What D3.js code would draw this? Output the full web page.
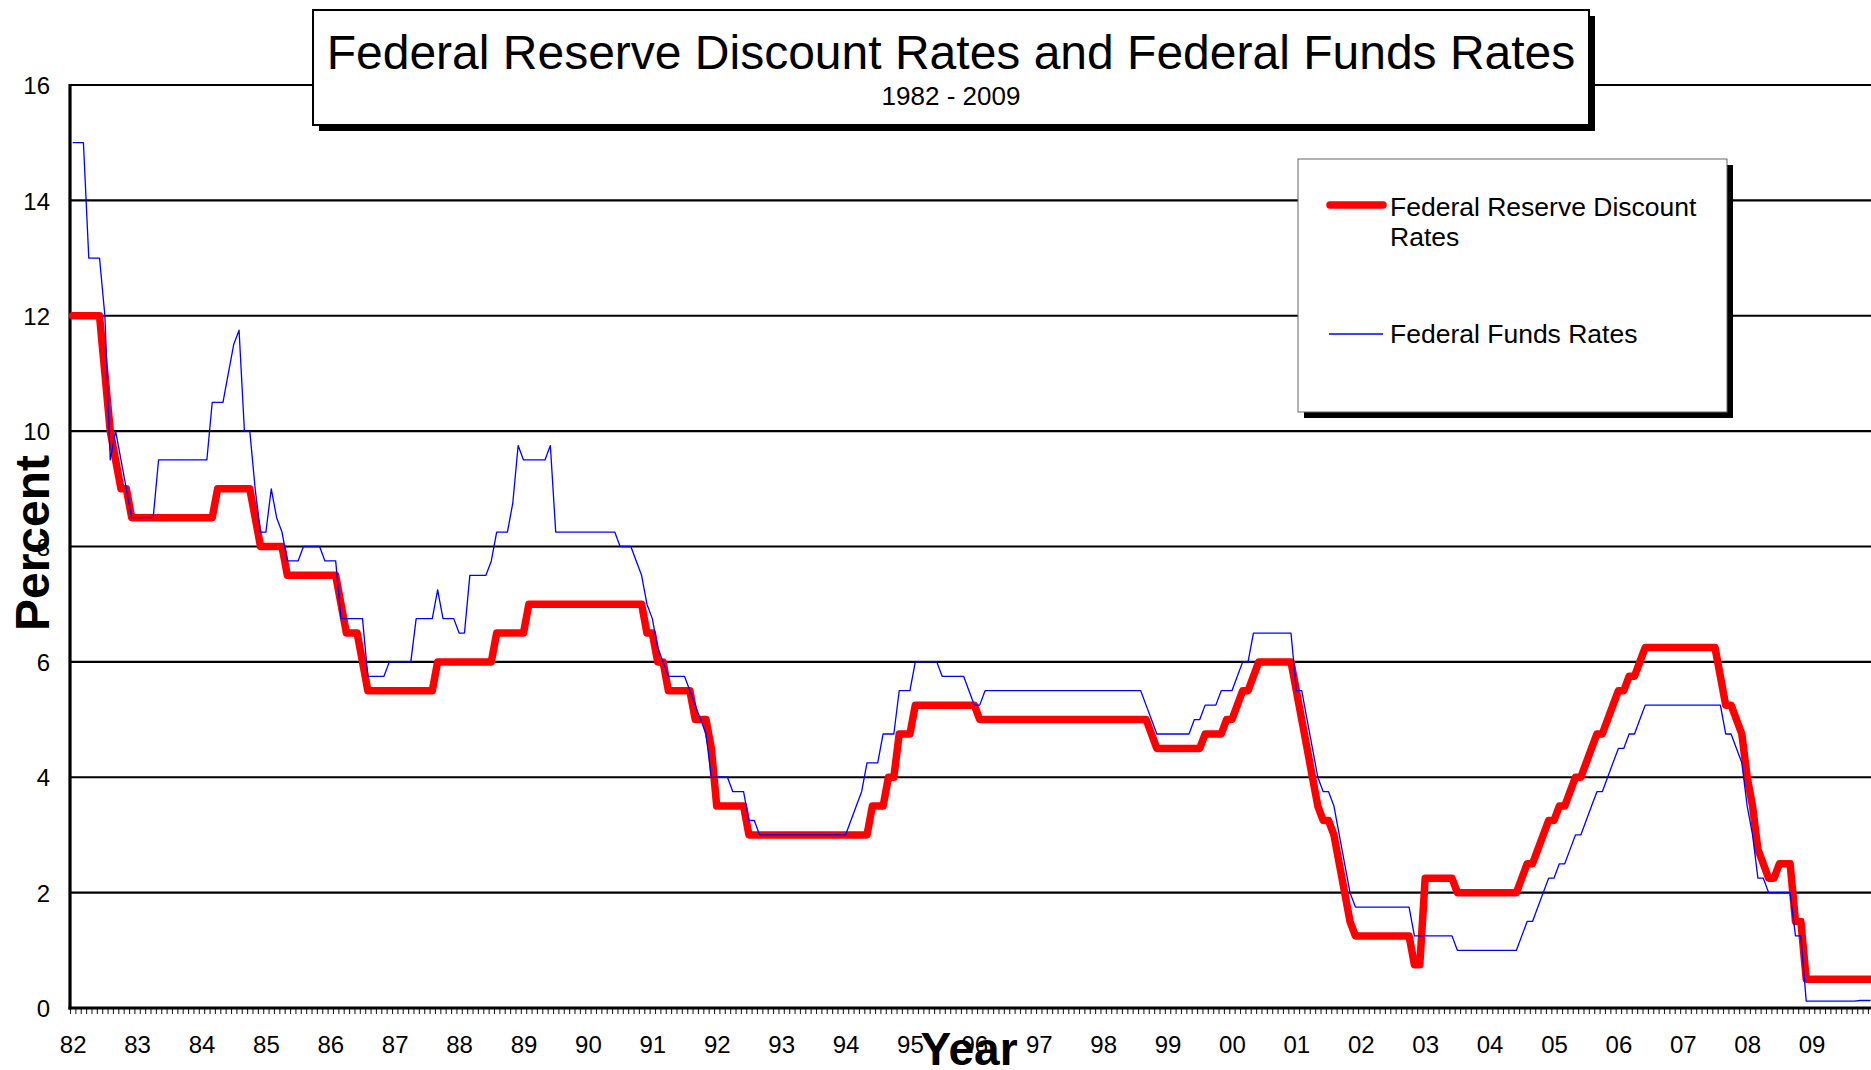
<!DOCTYPE html>
<html>
<head>
<meta charset="utf-8">
<script src="https://cdn.jsdelivr.net/npm/d3@7"></script>
<style>
  html, body { margin: 0; padding: 0; background: #fff; }
  svg { display: block; font-family: "Liberation Sans", Arial, sans-serif; }
</style>
</head>
<body>
<svg id="chart" width="1871" height="1070"></svg>
<script>
// ---------- data (monthly, Jan 1982 .. Dec 2009) ----------
const yearLabels = ["82","83","84","85","86","87","88","89","90","91","92","93","94","95",
                    "96","97","98","99","00","01","02","03","04","05","06","07","08","09"];
const yTicks = [0, 2, 4, 6, 8, 10, 12, 14, 16];

const discountRate = [
  12,12,12,12,12,12,11,10,9.5,9,9,8.5,                      // 1982
  8.5,8.5,8.5,8.5,8.5,8.5,8.5,8.5,8.5,8.5,8.5,8.5,          // 1983
  8.5,8.5,8.5,9,9,9,9,9,9,9,8.5,8,                          // 1984
  8,8,8,8,7.5,7.5,7.5,7.5,7.5,7.5,7.5,7.5,                  // 1985
  7.5,7.5,7,6.5,6.5,6.5,6,5.5,5.5,5.5,5.5,5.5,              // 1986
  5.5,5.5,5.5,5.5,5.5,5.5,5.5,5.5,6,6,6,6,                  // 1987
  6,6,6,6,6,6,6,6.5,6.5,6.5,6.5,6.5,                        // 1988
  6.5,7,7,7,7,7,7,7,7,7,7,7,                                // 1989
  7,7,7,7,7,7,7,7,7,7,7,6.5,                                // 1990
  6.5,6,6,5.5,5.5,5.5,5.5,5.5,5,5,5,4.5,                    // 1991
  3.5,3.5,3.5,3.5,3.5,3.5,3,3,3,3,3,3,                      // 1992
  3,3,3,3,3,3,3,3,3,3,3,3,                                  // 1993
  3,3,3,3,3,3.5,3.5,3.5,4,4,4.75,4.75,                      // 1994
  4.75,5.25,5.25,5.25,5.25,5.25,5.25,5.25,5.25,5.25,5.25,5.25, // 1995
  5.25,5,5,5,5,5,5,5,5,5,5,5,                               // 1996
  5,5,5,5,5,5,5,5,5,5,5,5,                                  // 1997
  5,5,5,5,5,5,5,5,5,4.75,4.5,4.5,                           // 1998
  4.5,4.5,4.5,4.5,4.5,4.5,4.5,4.75,4.75,4.75,4.75,5,        // 1999
  5,5.25,5.5,5.5,5.75,6,6,6,6,6,6,6,                        // 2000
  5.5,5,4.5,4,3.5,3.25,3.25,3,2.5,2,1.5,1.25,               // 2001
  1.25,1.25,1.25,1.25,1.25,1.25,1.25,1.25,1.25,1.25,0.75,0.75, // 2002
  2.25,2.25,2.25,2.25,2.25,2.25,2,2,2,2,2,2,                // 2003
  2,2,2,2,2,2,2.25,2.5,2.5,2.75,3,3.25,                     // 2004
  3.25,3.5,3.5,3.75,4,4,4.25,4.5,4.75,4.75,5,5.25,          // 2005
  5.5,5.5,5.75,5.75,6,6.25,6.25,6.25,6.25,6.25,6.25,6.25,   // 2006
  6.25,6.25,6.25,6.25,6.25,6.25,6.25,5.75,5.25,5.25,5,4.75, // 2007
  4,3.5,2.75,2.5,2.25,2.25,2.5,2.5,2.5,1.5,1.5,0.5,         // 2008
  0.5,0.5,0.5,0.5,0.5,0.5,0.5,0.5,0.5,0.5,0.5,0.5           // 2009
];

const fedFundsRate = [
  15,15,15,13,13,13,12,9.5,10,9.5,9,8.5,                    // 1982
  8.5,8.5,8.5,8.5,9.5,9.5,9.5,9.5,9.5,9.5,9.5,9.5,          // 1983
  9.5,9.5,10.5,10.5,10.5,11,11.5,11.75,10,10,9,8.25,        // 1984
  8.25,9,8.5,8.25,7.75,7.75,7.75,8,8,8,8,7.75,              // 1985
  7.75,7.75,6.75,6.75,6.75,6.75,6.75,5.75,5.75,5.75,5.75,6, // 1986
  6,6,6,6,6.75,6.75,6.75,6.75,7.25,6.75,6.75,6.75,          // 1987
  6.5,6.5,7.5,7.5,7.5,7.5,7.75,8.25,8.25,8.25,8.75,9.75,    // 1988
  9.5,9.5,9.5,9.5,9.5,9.75,8.25,8.25,8.25,8.25,8.25,8.25,   // 1989
  8.25,8.25,8.25,8.25,8.25,8.25,8,8,8,7.75,7.5,7,           // 1990
  6.75,6.25,6,5.75,5.75,5.75,5.75,5.5,5.25,5,4.75,4,        // 1991
  4,4,4,3.75,3.75,3.75,3.25,3.25,3,3,3,3,                   // 1992
  3,3,3,3,3,3,3,3,3,3,3,3,                                  // 1993
  3,3.25,3.5,3.75,4.25,4.25,4.25,4.75,4.75,4.75,5.5,5.5,    // 1994
  5.5,6,6,6,6,6,5.75,5.75,5.75,5.75,5.75,5.5,               // 1995
  5.25,5.25,5.5,5.5,5.5,5.5,5.5,5.5,5.5,5.5,5.5,5.5,        // 1996
  5.5,5.5,5.5,5.5,5.5,5.5,5.5,5.5,5.5,5.5,5.5,5.5,          // 1997
  5.5,5.5,5.5,5.5,5.5,5.5,5.5,5.5,5.25,5,4.75,4.75,         // 1998
  4.75,4.75,4.75,4.75,4.75,5,5,5.25,5.25,5.25,5.5,5.5,      // 1999
  5.5,5.75,6,6,6.5,6.5,6.5,6.5,6.5,6.5,6.5,6.5,             // 2000
  5.5,5.5,5,4.5,4,3.75,3.75,3.5,3,2.5,2,1.75,               // 2001
  1.75,1.75,1.75,1.75,1.75,1.75,1.75,1.75,1.75,1.75,1.25,1.25, // 2002
  1.25,1.25,1.25,1.25,1.25,1.25,1,1,1,1,1,1,                // 2003
  1,1,1,1,1,1,1.25,1.5,1.5,1.75,2,2.25,                     // 2004
  2.25,2.5,2.5,2.75,3,3,3.25,3.5,3.75,3.75,4,4.25,          // 2005
  4.5,4.5,4.75,4.75,5,5.25,5.25,5.25,5.25,5.25,5.25,5.25,   // 2006
  5.25,5.25,5.25,5.25,5.25,5.25,5.25,5.25,4.75,4.75,4.5,4.25, // 2007
  3.5,3,2.25,2.25,2,2,2,2,2,1.25,1.25,0.12,                 // 2008
  0.12,0.12,0.12,0.12,0.12,0.12,0.12,0.12,0.12,0.13,0.13,0.13 // 2009
];

const titleText = "Federal Reserve Discount Rates and Federal Funds Rates";
const subtitleText = "1982 - 2009";
const seriesNames = ["Federal Reserve Discount", "Rates", "Federal Funds Rates"];

// ---------- layout ----------
const W = 1871, H = 1070;
const plotLeft = 70, plotTop = 85, plotBottom = 1008;
const monthW = 5.367;
const nMonths = yearLabels.length * 12;

const svg = d3.select("#chart");
svg.append("rect").attr("width", W).attr("height", H).attr("fill", "#fff");

const x = d3.scaleLinear().domain([0, nMonths]).range([plotLeft, plotLeft + nMonths * monthW]);
const y = d3.scaleLinear().domain([0, 16]).range([plotBottom, plotTop]);

// gridlines (incl. top border at 16)
svg.append("g").selectAll("line")
  .data(yTicks.filter(v => v > 0))
  .join("line")
  .attr("x1", plotLeft).attr("x2", W)
  .attr("y1", d => y(d)).attr("y2", d => y(d))
  .attr("stroke", "#000").attr("stroke-width", 2.2);

// monthly minor ticks below x-axis
const xTickAxis = d3.axisBottom(x)
  .tickValues(d3.range(0, nMonths + 1))
  .tickSize(6).tickFormat("");
const gxt = svg.append("g").attr("transform", `translate(0,${plotBottom})`).call(xTickAxis);
gxt.select(".domain").remove();
gxt.selectAll(".tick line").attr("stroke", "#222").attr("stroke-width", 1.1);

// year labels
const xLabAxis = d3.axisBottom(x)
  .tickValues(yearLabels.map((d, i) => i * 12 + 0.5))
  .tickSize(0).tickPadding(0)
  .tickFormat((d, i) => yearLabels[i]);
const gxl = svg.append("g").attr("transform", `translate(0,${plotBottom})`).call(xLabAxis);
gxl.select(".domain").remove();
gxl.selectAll("text")
  .attr("font-family", '"Liberation Sans", Arial, sans-serif')
  .attr("font-size", 24).attr("fill", "#000")
  .attr("dy", null).attr("y", 45);

// y labels
const yAxis = d3.axisLeft(y).tickValues(yTicks).tickSize(0).tickPadding(20);
const gy = svg.append("g").attr("transform", `translate(${plotLeft},0)`).call(yAxis);
gy.select(".domain").remove();
gy.selectAll("text")
  .attr("font-family", '"Liberation Sans", Arial, sans-serif')
  .attr("font-size", 24).attr("fill", "#000").attr("dy", "0.36em");

// axis lines
svg.append("line").attr("x1", plotLeft).attr("x2", plotLeft)
  .attr("y1", plotTop - 1).attr("y2", plotBottom + 1.5)
  .attr("stroke", "#000").attr("stroke-width", 3.2);
svg.append("line").attr("x1", plotLeft - 1.5).attr("x2", W)
  .attr("y1", plotBottom).attr("y2", plotBottom)
  .attr("stroke", "#000").attr("stroke-width", 3.2);

// series
const line = d3.line().x((d, i) => x(i + 0.5)).y(d => y(d));
svg.append("path").datum(discountRate)
  .attr("d", line).attr("fill", "none")
  .attr("stroke", "#ff0000").attr("stroke-width", 7.5)
  .attr("stroke-linejoin", "round").attr("stroke-linecap", "round");
svg.append("path").datum(fedFundsRate)
  .attr("d", line).attr("fill", "none")
  .attr("stroke", "#0000ff").attr("stroke-width", 1.3)
  .attr("stroke-linejoin", "round");

// axis titles
svg.append("text")
  .attr("transform", "translate(49,543) rotate(-90)")
  .attr("text-anchor", "middle")
  .attr("font-size", 48).attr("font-weight", "bold").attr("fill", "#000")
  .text("Percent");
svg.append("text")
  .attr("x", 969).attr("y", 1065)
  .attr("text-anchor", "middle")
  .attr("font-size", 46).attr("font-weight", "bold").attr("fill", "#000")
  .text("Year");

// title box
const tb = { x: 313, y: 10, w: 1276, h: 115 };
svg.append("rect").attr("x", tb.x + 6).attr("y", tb.y + 6).attr("width", tb.w).attr("height", tb.h).attr("fill", "#000");
svg.append("rect").attr("x", tb.x).attr("y", tb.y).attr("width", tb.w).attr("height", tb.h)
  .attr("fill", "#fff").attr("stroke", "#000").attr("stroke-width", 2);
svg.append("text").attr("x", tb.x + tb.w / 2).attr("y", 69)
  .attr("text-anchor", "middle").attr("font-size", 48).attr("fill", "#000")
  .text(titleText);
svg.append("text").attr("x", tb.x + tb.w / 2).attr("y", 105)
  .attr("text-anchor", "middle").attr("font-size", 26).attr("fill", "#000")
  .text(subtitleText);

// legend
const lg = { x: 1298, y: 159, w: 429, h: 253 };
svg.append("rect").attr("x", lg.x + 6).attr("y", lg.y + 6).attr("width", lg.w).attr("height", lg.h).attr("fill", "#000");
svg.append("rect").attr("x", lg.x).attr("y", lg.y).attr("width", lg.w).attr("height", lg.h)
  .attr("fill", "#fff").attr("stroke", "#666").attr("stroke-width", 1);
svg.append("line").attr("x1", 1330).attr("x2", 1383).attr("y1", 205).attr("y2", 205)
  .attr("stroke", "#ff0000").attr("stroke-width", 7.5).attr("stroke-linecap", "round");
svg.append("line").attr("x1", 1329).attr("x2", 1383).attr("y1", 334).attr("y2", 334)
  .attr("stroke", "#0000ff").attr("stroke-width", 1.3);
svg.append("text").attr("x", 1390).attr("y", 216).attr("font-size", 26.5).attr("fill", "#000").text(seriesNames[0]);
svg.append("text").attr("x", 1390).attr("y", 246).attr("font-size", 26.5).attr("fill", "#000").text(seriesNames[1]);
svg.append("text").attr("x", 1390).attr("y", 343).attr("font-size", 26.5).attr("fill", "#000").text(seriesNames[2]);
</script>
</body>
</html>
